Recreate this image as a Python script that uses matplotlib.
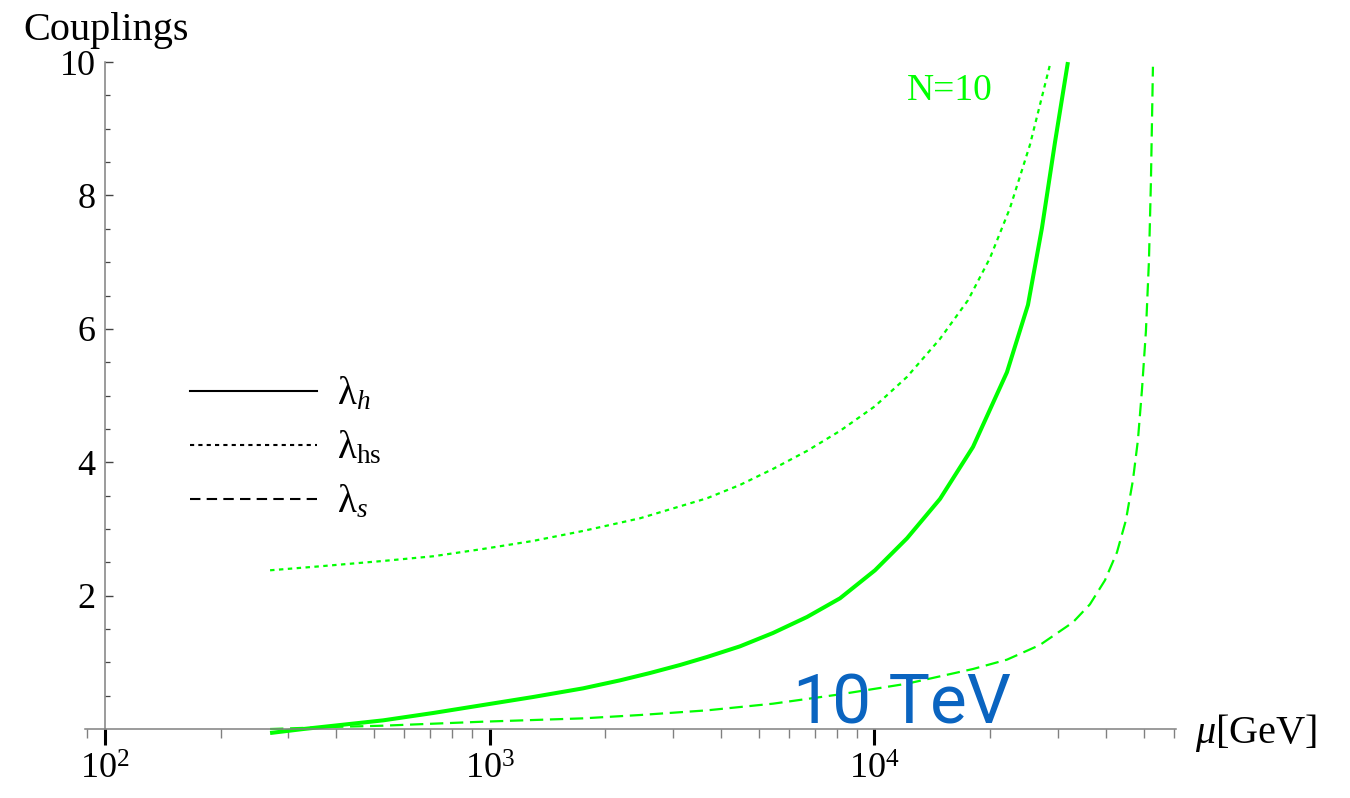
import numpy as np
import matplotlib
matplotlib.use('Agg')
import matplotlib.pyplot as plt
from matplotlib.lines import Line2D
from matplotlib.ticker import FixedLocator, FixedFormatter, NullFormatter

plt.rcParams['font.family'] = 'Liberation Serif'
plt.rcParams['mathtext.fontset'] = 'custom'
plt.rcParams['mathtext.rm'] = 'Liberation Serif'
plt.rcParams['mathtext.it'] = 'Liberation Serif:italic'
plt.rcParams['mathtext.bf'] = 'Liberation Serif:bold'

# running couplings for N=10, scale mu in GeV
mu_h = [269, 328, 409, 529, 713, 962, 1297, 1750, 2183, 2612, 3125, 3672, 4474,
        5450, 6680, 8137, 10030, 12150, 14800, 18030, 22090, 25050, 27230, 29430,
        31810]
lam_h = [-0.06, 0.0, 0.06, 0.13, 0.24, 0.36, 0.48, 0.61, 0.73, 0.84, 0.96, 1.08,
         1.24, 1.44, 1.68, 1.96, 2.38, 2.86, 3.45, 4.23, 5.35, 6.36, 7.51, 8.79,
         10.0]

mu_hs = [269, 363, 529, 713, 962, 1297, 1750, 2460, 3672, 4474, 5450, 6680, 8137,
         10030, 12150, 14800, 17500, 19950, 22490, 25350, 28570]
lam_hs = [2.38, 2.44, 2.52, 2.59, 2.70, 2.82, 2.97, 3.16, 3.46, 3.66, 3.90, 4.17,
          4.47, 4.84, 5.28, 5.85, 6.43, 7.06, 7.81, 8.76, 9.96]

mu_s = [269, 385, 529, 962, 1750, 2460, 3672, 5450, 8137, 12150, 18030, 22090,
        26900, 32780, 36290, 39700, 42660, 45000, 46930, 48350, 49530, 50730,
        51650, 52270, 52900]
lam_s = [0.0, 0.03, 0.05, 0.11, 0.16, 0.21, 0.28, 0.38, 0.52, 0.68, 0.90, 1.04,
         1.26, 1.60, 1.87, 2.23, 2.65, 3.13, 3.73, 4.33, 5.08, 5.97, 7.02, 8.22,
         9.93]

green = '#00ff00'
grey = '#808080'

fig = plt.figure(figsize=(13.5, 7.98), dpi=100)
ax = fig.add_axes([0.06296, 0.0739, 0.8081, 0.8525])

ax.plot(mu_h, lam_h, color=green, lw=2.9, solid_capstyle='butt', solid_joinstyle='round')
ax.plot(mu_hs, lam_hs, color=green, lw=1.6, linestyle=(0, (2, 2)))
ax.plot(mu_s, lam_s, color=green, lw=1.6, linestyle=(0, (6, 3)))

ax.set_xscale('log')
ax.set_xlim(88.9, 60700)
ax.set_ylim(-0.15, 10.05)

for s in ['top', 'right']:
    ax.spines[s].set_visible(False)
ax.spines['left'].set_position(('data', 100))
ax.spines['left'].set_bounds(0, 10)
ax.spines['bottom'].set_position(('data', 0))
for s in ['left', 'bottom']:
    ax.spines[s].set_color(grey)
    ax.spines[s].set_linewidth(1.1)

# x ticks
xmajor = [1e2, 1e3, 1e4]
xminor = [90] + [k * 10**e for e in (2, 3) for k in range(2, 10)] + [2e4, 3e4, 4e4, 5e4, 6e4]
ax.xaxis.set_major_locator(FixedLocator(xmajor))
ax.xaxis.set_major_formatter(FixedFormatter([r'$10^{2}$', r'$10^{3}$', r'$10^{4}$']))
ax.xaxis.set_minor_locator(FixedLocator(xminor))
ax.xaxis.set_minor_formatter(NullFormatter())
ax.tick_params(axis='x', which='major', direction='out', length=11.5, width=2.2,
               color='black', labelsize=26, pad=6)
ax.tick_params(axis='x', which='minor', direction='out', length=6.5, width=1.0,
               color=grey)

# y ticks
ax.yaxis.set_major_locator(FixedLocator([2, 4, 6, 8, 10]))
ax.yaxis.set_major_formatter(FixedFormatter(['2', '4', '6', '8', '10']))
ax.yaxis.set_minor_locator(FixedLocator(np.arange(0.5, 10, 0.5)))
ax.tick_params(axis='y', which='major', direction='in', length=5.8, width=1.0,
               color='#444444', labelsize=26, pad=6.5)
ax.tick_params(axis='y', which='minor', direction='in', length=3.6, width=0.9,
               color='#444444')

fig.text(23 / 1350, 1 - 40 / 798, 'Couplings', fontsize=29, ha='left', va='baseline')
ax.text(67900, -0.21, r'$\mu$[GeV]', fontsize=29, ha='left', va='baseline',
        clip_on=False)

ax.text(12130, 9.43, 'N=10', fontsize=27, color=green, ha='left', va='baseline')
ax.text(6140, 0.09, '10 TeV', fontsize=50, color='#0a64c0', ha='left',
        va='baseline', family='Roboto')

handles = [Line2D([], [], color='black', lw=1.5),
           Line2D([], [], color='black', lw=1.5, linestyle=(0, (2, 2))),
           Line2D([], [], color='black', lw=1.5, linestyle=(0, (5, 3)))]
labels = [r'λ$_{h}$', r'λ$_{\mathrm{hs}}$', r'λ$_{s}$']
ax.legend(handles, labels, loc='upper left', bbox_to_anchor=(190 / 1350, 1 - 376 / 798),
          bbox_transform=fig.transFigure, frameon=False, fontsize=28,
          borderpad=0, borderaxespad=0, handlelength=3.27, handletextpad=0.5,
          labelspacing=0.42)

fig.savefig('out.png', dpi=100)
